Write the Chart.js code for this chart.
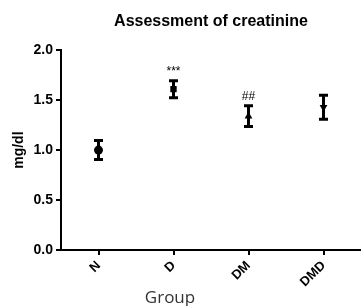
<!DOCTYPE html>
<html>
<head>
<meta charset="utf-8">
<script src="https://cdn.jsdelivr.net/npm/chart.js@4"></script>
<style>
  html, body { margin: 0; padding: 0; background: #fff; }
</style>
</head>
<body>
<canvas id="grafico" width="361" height="306"></canvas>
<script>
// datos
const grupos = ['N', 'D', 'DM', 'DMD'];
const medias = [1.00, 1.61, 1.34, 1.43];
const errores = [0.095, 0.085, 0.105, 0.12];
const marcas = ['', '***', '##', ''];
const ticksY = [0, 0.5, 1.0, 1.5, 2.0];

// barras de error, marcas de significancia y título del eje X
const barrasError = {
  id: 'barrasError',
  afterDatasetsDraw(chart) {
    const ctx = chart.ctx;
    const x = chart.scales.x;
    const y = chart.scales.y;
    ctx.save();
    ctx.strokeStyle = '#000';
    ctx.lineWidth = 3;
    grupos.forEach((g, i) => {
      const px = x.getPixelForValue(i);
      const top = y.getPixelForValue(medias[i] + errores[i]);
      const bot = y.getPixelForValue(medias[i] - errores[i]);
      ctx.beginPath();
      ctx.moveTo(px, top); ctx.lineTo(px, bot);
      ctx.moveTo(px - 4.5, top); ctx.lineTo(px + 4.5, top);
      ctx.moveTo(px - 4.5, bot); ctx.lineTo(px + 4.5, bot);
      ctx.stroke();
      if (marcas[i]) {
        ctx.fillStyle = '#000';
        ctx.font = '12px "Liberation Sans"';
        ctx.textAlign = 'center';
        ctx.textBaseline = 'bottom';
        ctx.fillText(marcas[i], px, top - 3);
      }
    });
    // "Group" va algo a la izquierda del centro en el original
    ctx.fillStyle = '#333';
    ctx.font = '17px "Open Sans"';
    ctx.textAlign = 'center';
    ctx.textBaseline = 'bottom';
    ctx.fillText('Group', chart.chartArea.left + 109, chart.height + 1);
    ctx.restore();
  }
};

const ctx = document.getElementById('grafico').getContext('2d');
new Chart(ctx, {
  type: 'line',
  data: {
    labels: grupos,
    datasets: [{
      data: medias,
      showLine: false,
      pointStyle: ['circle', 'rect', 'triangle', 'triangle'],
      rotation: [0, 0, 0, 180],
      pointRadius: 4.5,
      backgroundColor: '#000',
      borderColor: '#000',
      borderWidth: 0
    }]
  },
  options: {
    responsive: false,
    animation: false,
    layout: { padding: 0, autoPadding: false },
    scales: {
      x: {
        offset: true,
        border: { color: '#000', width: 2 },
        grid: { drawOnChartArea: false, drawTicks: true, tickLength: 5, color: '#000', lineWidth: 2, offset: false },
        ticks: {
          color: '#000',
          minRotation: 45,
          maxRotation: 45,
          font: { family: 'Liberation Sans', size: 13, weight: 'bold' }
        },
        afterFit(s) { s.height = 56; s.paddingRight = 0; }
      },
      y: {
        min: 0,
        max: 2,
        afterBuildTicks(s) { s.ticks = ticksY.map(v => ({ value: v })); },
        border: { color: '#000', width: 2 },
        grid: { drawOnChartArea: false, drawTicks: true, tickLength: 5, color: '#000', lineWidth: 2 },
        ticks: {
          color: '#000',
          padding: 3,
          font: { family: 'Liberation Sans', size: 14, weight: 'bold' },
          callback: v => v.toFixed(1)
        },
        title: {
          display: true,
          text: 'mg/dl',
          color: '#000',
          padding: { top: 11, bottom: 0 },
          font: { family: 'Liberation Sans', size: 14, weight: 'bold' }
        },
        afterFit(s) { s.width = 61; }
      }
    },
    plugins: {
      legend: { display: false },
      tooltip: { enabled: false },
      title: {
        display: true,
        text: 'Assessment of creatinine',
        color: '#000',
        fullSize: false,
        padding: { top: 12, bottom: 19 },
        font: { family: 'Liberation Sans', size: 16, weight: 'bold' }
      }
    }
  },
  plugins: [barrasError]
});
</script>
</body>
</html>
